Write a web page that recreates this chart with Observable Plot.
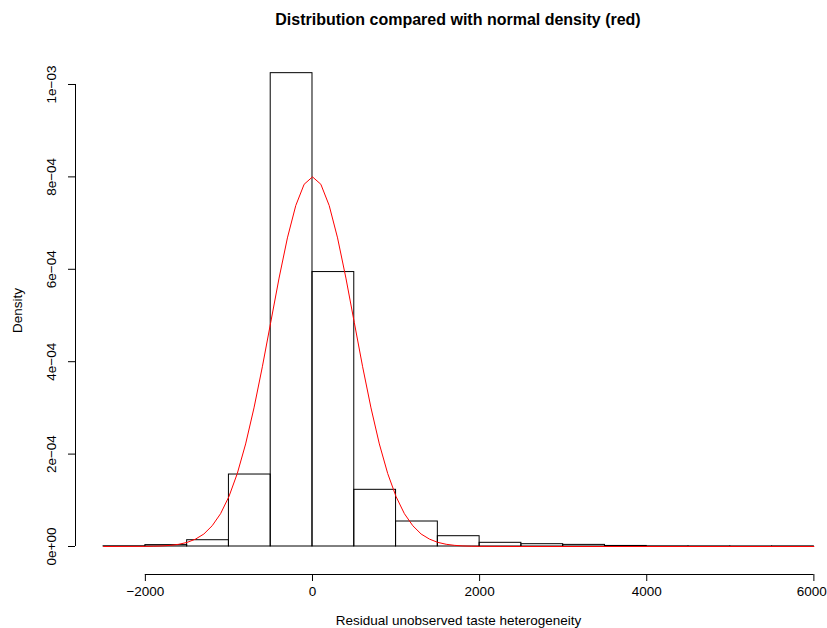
<!DOCTYPE html>
<html>
<head>
<meta charset="utf-8">
<script src="https://cdn.jsdelivr.net/npm/d3@7"></script>
<script src="https://cdn.jsdelivr.net/npm/@observablehq/plot@0.6"></script>
<style>
  html, body { margin: 0; padding: 0; background: #fff; overflow: hidden; }
  #title {
    width: 827px; height: 40px; box-sizing: border-box;
    padding-top: 12px; padding-left: 89px; text-align: center;
    font-family: "Liberation Sans", Arial, Helvetica, sans-serif;
    font-weight: bold; font-size: 16px; line-height: 1; color: #000;
  }
</style>
</head>
<body>
<div id="title">Distribution compared with normal density (red)</div>
<div id="chart"></div>
<script>
// Histogram bin edges (residual units)
const binEdges = [-2500, -2000, -1500, -1000, -500, 0, 500, 1000, 1500, 2000, 2500, 3000, 3500, 4000, 4500, 5000, 5500, 6000];
// Density of each bin
const binDensity = [0.0000005, 0.000003, 0.0000136, 0.0001558, 0.0010245, 0.000594, 0.0001227, 0.0000541, 0.0000223, 0.000008, 0.000005, 0.0000035, 0.0000012, 0.0000004, 0.0000003, 0.0000002, 0.0000003];

// Normal density curve (red)
const curveX = [-2500, -2000, -1900, -1800, -1700, -1600, -1500, -1400, -1300, -1200, -1100, -1000, -900, -800, -700, -600, -500, -400, -300, -200, -100, 0,
                100, 200, 300, 400, 500, 600, 700, 800, 900, 1000, 1100, 1200, 1300, 1400, 1500, 1600, 1700, 1800, 1900, 2000, 2500, 6000];
const curveY = [0, 0.0000003, 0.0000006, 0.0000012, 0.0000025, 0.0000048, 0.0000089, 0.000016, 0.000027, 0.000045, 0.000071, 0.000108, 0.000158, 0.000222, 0.000300, 0.000389, 0.000485, 0.000581, 0.000668, 0.000738, 0.000784, 0.000800,
                0.000784, 0.000738, 0.000668, 0.000581, 0.000485, 0.000389, 0.000300, 0.000222, 0.000158, 0.000108, 0.000071, 0.000045, 0.000027, 0.000016, 0.0000089, 0.0000048, 0.0000025, 0.0000012, 0.0000006, 0.0000003, 0, 0];

// Axis ticks and labels
const xTicks = [-2000, 0, 2000, 4000, 6000];
const xTickLabels = ["\u22122000", "0", "2000", "4000", "6000"];
const yTicks = [0, 0.0002, 0.0004, 0.0006, 0.0008, 0.001];
const yTickLabels = ["0e+00", "2e\u221204", "4e\u221204", "6e\u221204", "8e\u221204", "1e\u221203"];

const xLabel = "Residual unobserved taste heterogeneity";
const yLabel = "Density";

// Build tables
const bins = binDensity.map((d, i) => ({x1: binEdges[i], x2: binEdges[i + 1], density: d}));
const curve = curveX.map((x, i) => ({x, y: curveY[i]}));
const xTickTable = xTicks.map((x, i) => ({x, label: xTickLabels[i]}));
const xTickInner = xTickTable.slice(0, -1);
const xTickLast = xTickTable.slice(-1);

const xDomain = [-2836, 6163];
const yDomain = [-0.0000606, 0.0010649];

const font = "'Liberation Sans', Arial, Helvetica, sans-serif";
const fs = 13.5;

const chart = Plot.plot({
  width: 827,
  height: 588,
  marginLeft: 75,
  marginRight: 0,
  marginTop: 14,
  marginBottom: 54,
  style: {fontFamily: font, fontSize: fs + "px", background: "#fff", color: "#000", overflow: "hidden"},
  x: {domain: xDomain},
  y: {domain: yDomain},
  marks: [
    Plot.rect(bins, {x1: "x1", x2: "x2", y1: 0, y2: "density", fill: "none", stroke: "#000", strokeWidth: 1}),
    Plot.line(curve, {x: "x", y: "y", stroke: "#ff0000", strokeWidth: 1}),
    // axis lines (R style, from first to last tick)
    Plot.ruleY([yDomain[0]], {x1: xTicks[0], x2: xTicks[xTicks.length - 1], stroke: "#000", strokeWidth: 1}),
    Plot.ruleX([xDomain[0]], {y1: yTicks[0], y2: yTicks[yTicks.length - 1], stroke: "#000", strokeWidth: 1}),
    Plot.axisX({ticks: xTicks, tickSize: 7, tickFormat: () => "", label: null, stroke: "#000"}),
    Plot.text(xTickInner, {x: "x", text: "label", frameAnchor: "bottom", lineAnchor: "top", dy: 12, fontSize: fs, textAnchor: "middle", fill: "#000"}),
    Plot.text(xTickLast, {x: "x", text: "label", frameAnchor: "bottom", lineAnchor: "top", dy: 12, dx: 13, fontSize: fs, textAnchor: "end", fill: "#000"}),
    Plot.axisY({ticks: yTicks, tickSize: 7, tickFormat: () => "", label: null, stroke: "#000"}),
    Plot.text(yTicks, {y: d => d, text: (d, i) => yTickLabels[i], frameAnchor: "left", rotate: -90, dx: -24, fontSize: fs, textAnchor: "middle", fill: "#000"}),
    Plot.text([yLabel], {text: d => d, frameAnchor: "left", rotate: -90, dx: -57.5, dy: -4, fontSize: fs, textAnchor: "middle", fill: "#000"}),
    Plot.text([xLabel], {text: d => d, frameAnchor: "bottom", lineAnchor: "top", dx: 7, dy: 41, fontSize: fs, textAnchor: "middle", fill: "#000"})
  ]
});
document.getElementById("chart").appendChild(chart);
</script>
</body>
</html>
